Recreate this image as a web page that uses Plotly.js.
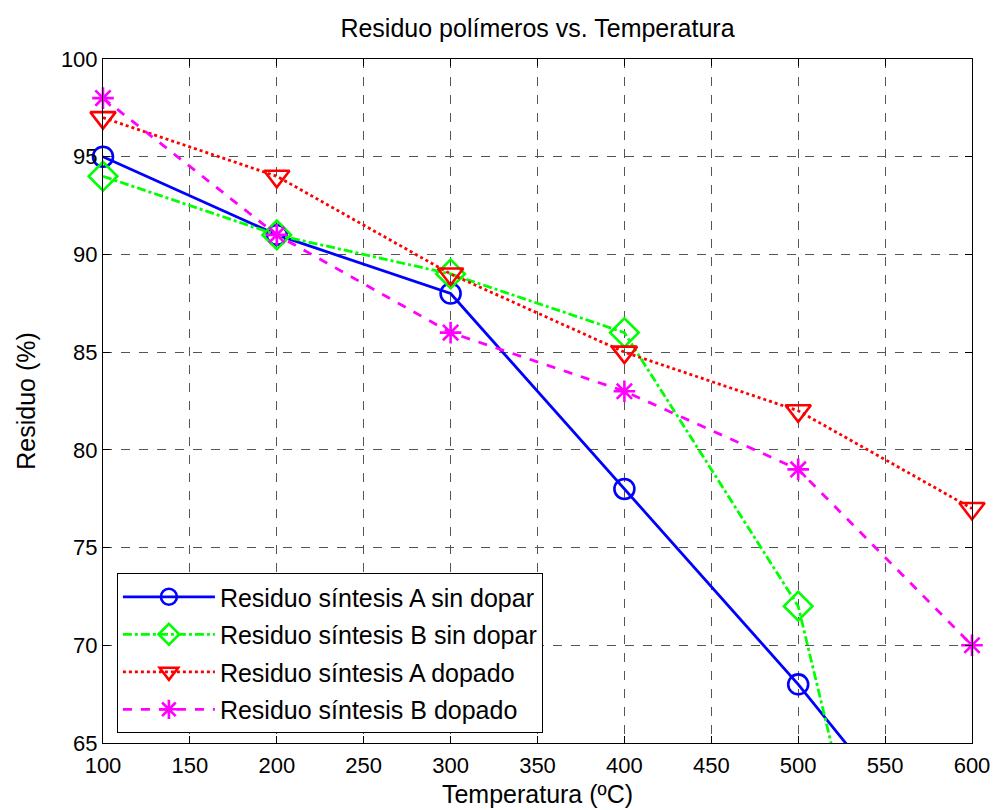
<!DOCTYPE html>
<html><head><meta charset="utf-8">
<script src="https://cdn.plot.ly/plotly-3.0.1.min.js"></script>
<style>html,body{margin:0;padding:0;background:#fff}#c{width:995px;height:810px}</style>
</head><body><div id="c"></div>
<script>
const temperatura = [100, 200, 300, 400, 500, 600];
const sintesisA_sinDopar = [95, 91, 88, 78, 68, 57];
const sintesisB_sinDopar = [94, 91, 89, 86, 72, 35];
const sintesisA_dopado = [97, 94, 89, 85, 82, 77];
const sintesisB_dopado = [98, 91, 86, 83, 79, 70];
const seriesNames = ['Residuo síntesis A sin dopar','Residuo síntesis B sin dopar','Residuo síntesis A dopado','Residuo síntesis B dopado'];
const xTicks = [100,150,200,250,300,350,400,450,500,550,600];
const yTicks = [65,70,75,80,85,90,95,100];

const F = 'Liberation Sans, Arial, Helvetica, sans-serif';
function tr(y, name, color, dash, symbol, size, g){
  return {x: temperatura, y: y, name: name, type:'scatter', mode:'lines+markers',
    legendgroup: g, cliponaxis: false,
    line:{color:color, width:2.8, dash:dash},
    marker:{symbol:symbol, size:size, color:color, line:{color:color, width:2.6}}};
}
const data = [
  tr(sintesisA_sinDopar, seriesNames[0], '#0000ff', 'solid', 'circle-open', 20, 'a'),
  tr(sintesisB_sinDopar, seriesNames[1], '#00ff00', 'dashdot', 'diamond-open', 22, 'b'),
  tr(sintesisA_dopado, seriesNames[2], '#ff0000', 'dot', 'triangle-down-open', 22, 'c'),
  tr(sintesisB_dopado, seriesNames[3], '#ff00ff', 'dash', 'asterisk-open', 18, 'd')
];
const ax = {showline:true, linecolor:'#000', linewidth:1, mirror:'ticks', ticks:'inside', ticklen:7, tickcolor:'#000',
  showgrid:true, gridcolor:'#555', griddash:'dash', gridwidth:1, zeroline:false,
  tickfont:{family:F, size:22, color:'#000'}};
const layout = {
  width:995, height:810, paper_bgcolor:'#fff', plot_bgcolor:'#fff',
  margin:{l:103, r:23, t:59, b:67},
  font:{family:F, color:'#000'},
  title:{text:'Residuo polímeros vs. Temperatura', font:{family:F, size:25, color:'#000'}, x:0.5, xref:'paper', y:0.965, yref:'container', yanchor:'middle'},
  xaxis:Object.assign({}, ax, {range:[100,600], tickvals:xTicks, ticktext:xTicks.map(String), ticklabelstandoff:3,
    title:{text:'Temperatura (ºC)', font:{family:F, size:25}, standoff:8}}),
  yaxis:Object.assign({}, ax, {range:[65,100], tickvals:yTicks, ticktext:yTicks.map(String),
    title:{text:'Residuo (%)', font:{family:F, size:25}, standoff:18}}),
  showlegend:true,
  legend:{x:0.016, y:0.2485, xanchor:'left', yanchor:'top', bgcolor:'#fff', bordercolor:'#000', borderwidth:1,
    font:{family:F, size:25, color:'#000'}, traceorder:'grouped', tracegroupgap:2, itemwidth:92}
};
Plotly.newPlot('c', data, layout, {displayModeBar:false, staticPlot:true});
</script></body></html>
